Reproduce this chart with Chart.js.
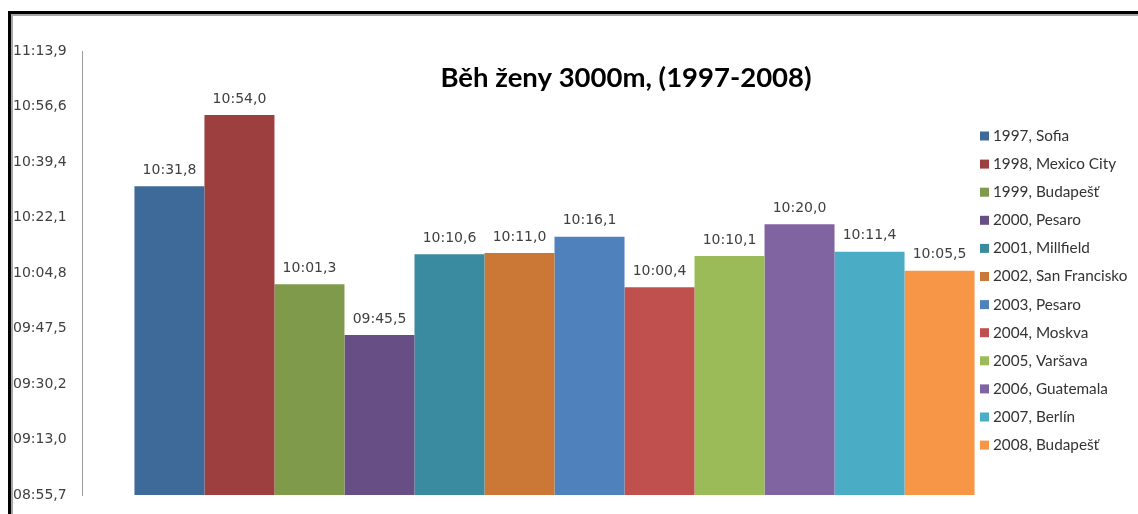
<!DOCTYPE html>
<html>
<head>
<meta charset="utf-8">
<title>Běh ženy 3000m</title>
<script src="https://cdn.jsdelivr.net/npm/chart.js@4"></script>
<style>
  body { margin: 0; background: #fff; }
  #wrap { position: relative; width: 1138px; height: 514px; }
</style>
</head>
<body>
<div id="wrap"><canvas id="myChart"></canvas></div>
<script>
// data (times in seconds)
const seriesNames = ["1997, Sofia", "1998, Mexico City", "1999, Budapešť", "2000, Pesaro",
  "2001, Millfield", "2002, San Francisko", "2003, Pesaro", "2004, Moskva",
  "2005, Varšava", "2006, Guatemala", "2007, Berlín", "2008, Budapešť"];
const times = [631.8, 654.0, 601.3, 585.5, 610.6, 611.0, 616.1, 600.4, 610.1, 620.0, 611.4, 605.5];
const colors = ["#3E6A99", "#9C3F3E", "#7E9A4A", "#674F86", "#3B8BA0", "#CB7837",
  "#4F81BD", "#C0504D", "#9BBB59", "#8064A2", "#4BACC6", "#F79646"];
const tickValues = [535.7, 552.975, 570.25, 587.525, 604.8, 622.075, 639.35, 656.625, 673.9];
const tickLabels = ["08:55,7", "09:13,0", "09:30,2", "09:47,5", "10:04,8", "10:22,1", "10:39,4", "10:56,6", "11:13,9"];
const title = "Běh ženy 3000m, (1997-2008)";

function fmtTime(v) {
  var m = Math.floor(v / 60);
  var s = (v - m * 60).toFixed(1);
  if (s.length < 4) s = "0" + s;
  return (m < 10 ? "0" : "") + m + ":" + s.replace(".", ",");
}

var datasets = [];
for (var i = 0; i < times.length; i++) {
  datasets.push({
    label: seriesNames[i],
    data: [times[i]],
    backgroundColor: colors[i],
    borderWidth: 0,
    categoryPercentage: 0.889,
    barPercentage: 1.0
  });
}

// frame, title, value labels and legend
var extras = {
  id: "extras",
  beforeDraw: function(chart) {
    var ctx = chart.ctx;
    ctx.save();
    ctx.fillStyle = "#000";
    ctx.fillRect(8, 11, 1130, 3);
    ctx.fillRect(8, 11, 3, 503);
    ctx.fillStyle = "#a6a6a6";
    ctx.fillRect(11, 14, 1127, 2);
    ctx.fillRect(11, 14, 2, 500);
    ctx.restore();
  },
  afterDatasetsDraw: function(chart) {
    var ctx = chart.ctx;
    ctx.save();
    ctx.font = "14px 'DejaVu Sans'";
    ctx.fillStyle = "#404040";
    ctx.textAlign = "center";
    ctx.textBaseline = "middle";
    chart.data.datasets.forEach(function(ds, i) {
      var bar = chart.getDatasetMeta(i).data[0];
      ctx.fillText(fmtTime(ds.data[0]), bar.x, bar.y - 16);
    });
    ctx.restore();
  },
  afterDraw: function(chart) {
    var ctx = chart.ctx;
    ctx.save();
    ctx.fillStyle = "#000";
    ctx.font = "bold 27.5px Lato";
    ctx.textAlign = "center";
    ctx.textBaseline = "middle";
    ctx.fillText(title, 626, 78);

    ctx.font = "15.3px Lato";
    ctx.textAlign = "left";
    for (var i = 0; i < seriesNames.length; i++) {
      var y = 136 + i * 28.1;
      ctx.fillStyle = colors[i];
      ctx.fillRect(980, y - 4.5, 9, 9);
      ctx.fillStyle = "#333";
      ctx.fillText(seriesNames[i], 993, y);
    }
    ctx.restore();
  }
};

new Chart("myChart", {
  type: "bar",
  data: {
    labels: [""],
    datasets: datasets
  },
  options: {
    responsive: true,
    maintainAspectRatio: false,
    animation: false,
    layout: { padding: { left: 13, top: 51, right: 111, bottom: 19 } },
    plugins: {
      legend: { display: false },
      title: { display: false },
      tooltip: { enabled: false }
    },
    scales: {
      x: { display: false },
      y: {
        min: tickValues[0],
        max: tickValues[tickValues.length - 1],
        afterBuildTicks: function(scale) {
          scale.ticks = tickValues.map(function(v) { return { value: v }; });
        },
        afterFit: function(scale) { scale.width = 69; },
        grid: { display: false },
        border: { display: true, color: "#9a9a9a", width: 1 },
        ticks: {
          crossAlign: "far",
          padding: 0,
          color: "#404040",
          font: { family: "'DejaVu Sans'", size: 14 },
          callback: function(value, index) { return tickLabels[index]; }
        }
      }
    }
  },
  plugins: [extras]
});
</script>
</body>
</html>
